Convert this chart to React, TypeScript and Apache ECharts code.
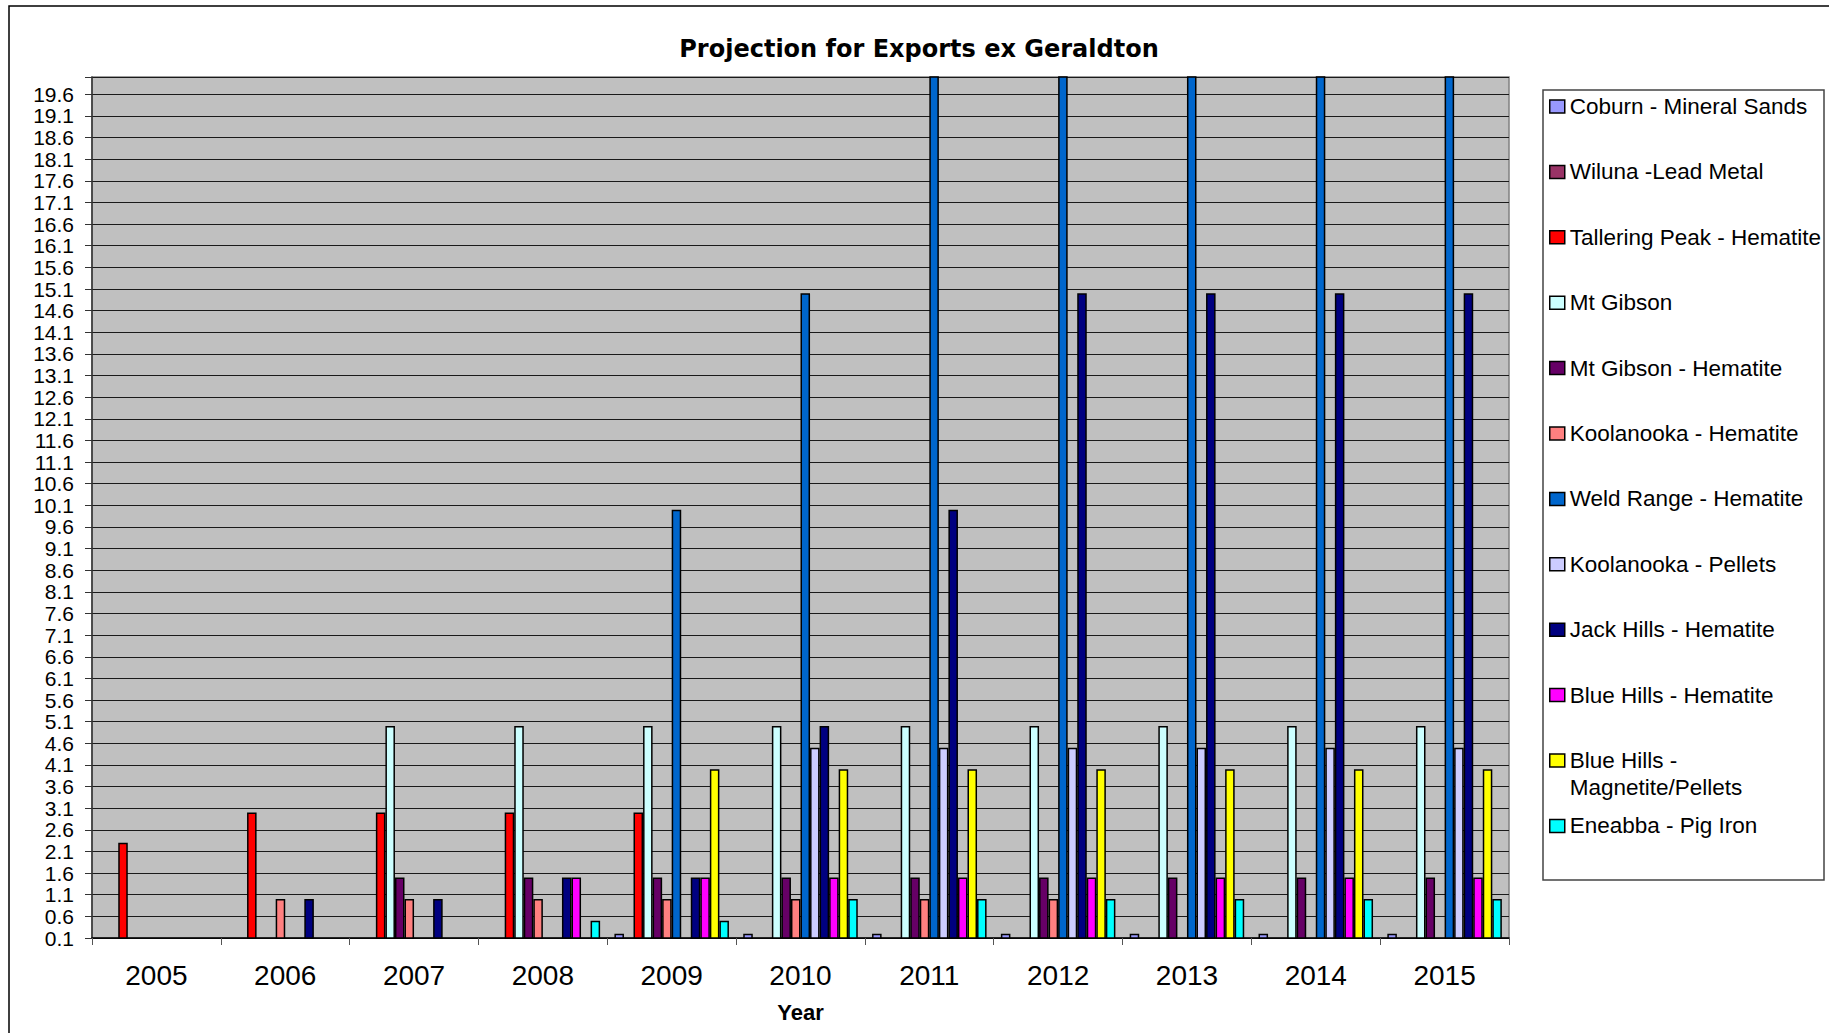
import React, { useEffect, useRef } from 'react';
import * as echarts from 'echarts';

const years = ['2005', '2006', '2007', '2008', '2009', '2010', '2011', '2012', '2013', '2014', '2015'];

const seriesNames = [
  'Coburn - Mineral Sands',
  'Wiluna -Lead Metal',
  'Tallering Peak - Hematite',
  'Mt Gibson',
  'Mt Gibson - Hematite',
  'Koolanooka - Hematite',
  'Weld Range - Hematite',
  'Koolanooka - Pellets',
  'Jack Hills - Hematite',
  'Blue Hills - Hematite',
  'Blue Hills - Magnetite/Pellets',
  'Eneabba - Pig Iron',
];

const seriesColors = [
  '#9999FF', '#993366', '#FF0000', '#CCFFFF', '#660066', '#FF8080',
  '#0066CC', '#CCCCFF', '#000080', '#FF00FF', '#FFFF00', '#00FFFF',
];

const coburn = [null, null, null, null, 0.2, 0.2, 0.2, 0.2, 0.2, 0.2, 0.2];
const wiluna = [null, null, null, null, null, null, null, null, null, null, null];
const talleringPeak = [2.3, 3, 3, 3, 3, null, null, null, null, null, null];
const mtGibson = [null, null, 5, 5, 5, 5, 5, 5, 5, 5, 5];
const mtGibsonHematite = [null, null, 1.5, 1.5, 1.5, 1.5, 1.5, 1.5, 1.5, 1.5, 1.5];
const koolanookaHematite = [null, 1, 1, 1, 1, 1, 1, 1, null, null, null];
const weldRange = [null, null, null, null, 10, 15, 25, 25, 25, 25, 25];
const koolanookaPellets = [null, null, null, null, null, 4.5, 4.5, 4.5, 4.5, 4.5, 4.5];
const jackHills = [null, 1, 1, 1.5, 1.5, 5, 10, 15, 15, 15, 15];
const blueHillsHematite = [null, null, null, 1.5, 1.5, 1.5, 1.5, 1.5, 1.5, 1.5, 1.5];
const blueHillsMagnetite = [null, null, null, null, 4, 4, 4, 4, 4, 4, 4];
const eneabba = [null, null, null, 0.5, 0.5, 1, 1, 1, 1, 1, 1];

const seriesValues = [
  coburn, wiluna, talleringPeak, mtGibson, mtGibsonHematite, koolanookaHematite,
  weldRange, koolanookaPellets, jackHills, blueHillsHematite, blueHillsMagnetite, eneabba,
];

const yMin = 0.1;
const yMax = 20;
const yStep = 0.5;

const FONT = '"Liberation Sans", Arial, Helvetica, sans-serif';
const TITLE_FONT = '"DejaVu Sans", "Liberation Sans", Arial, sans-serif';

export default function App() {
  const ref = useRef<HTMLDivElement>(null);

  useEffect(() => {
    if (!ref.current) return;
    const chart = echarts.init(ref.current, null, { renderer: 'svg' });

    const legendStep = 65.4;
    const legendFirst = 106.5;
    const legendFont = 22.5;
    const legends = seriesNames.map((name, i) => {
      const multi = i === 10;
      const c = legendFirst + i * legendStep;
      const base: any = {
        data: [name],
        orient: 'vertical',
        left: 1549,
        padding: 0,
        icon: 'rect',
        itemWidth: 15,
        itemHeight: 13,
        selectedMode: false,
        itemStyle: { borderColor: '#000', borderWidth: 1.5 },
      };
      if (multi) {
        return {
          ...base,
          top: c - 40.5,
          formatter: () => '{e| }\n{t|Blue Hills -}\n{t|Magnetite/Pellets}',
          textStyle: {
            fontFamily: FONT,
            fontSize: legendFont,
            color: '#000',
            lineHeight: 27,
            rich: {
              e: { fontFamily: FONT, fontSize: legendFont, lineHeight: 27, color: '#000' },
              t: { fontFamily: FONT, fontSize: legendFont, lineHeight: 27, color: '#000' },
            },
          },
        };
      }
      return {
        ...base,
        top: c - 12,
        textStyle: { fontFamily: FONT, fontSize: legendFont, color: '#000', lineHeight: 24 },
      };
    });

    const option: any = {
      animation: false,
      backgroundColor: '#ffffff',
      title: {
        text: 'Projection for Exports ex Geraldton',
        left: 919,
        top: 37,
        padding: 0,
        textAlign: 'center',
        textVerticalAlign: 'top',
        textStyle: { fontFamily: TITLE_FONT, fontSize: 24, fontWeight: 'bold', color: '#000' },
      },
      legend: legends,
      grid: {
        left: 92,
        top: 77,
        width: 1417,
        height: 861,
        show: true,
        backgroundColor: '#C0C0C0',
        borderColor: '#808080',
        borderWidth: 1.5,
        containLabel: false,
      },
      xAxis: {
        type: 'category',
        data: years,
        boundaryGap: true,
        axisLine: { show: true, lineStyle: { color: '#000', width: 1.5 } },
        axisTick: { show: true, length: 7, lineStyle: { color: '#555', width: 1 } },
        axisLabel: { fontFamily: FONT, fontSize: 28, color: '#000', margin: 23 },
        splitLine: { show: false },
        name: 'Year',
        nameLocation: 'middle',
        nameGap: 63,
        nameTextStyle: { fontFamily: FONT, fontSize: 22, fontWeight: 'bold', color: '#000' },
      },
      yAxis: {
        type: 'value',
        min: yMin,
        max: yMax,
        interval: yStep,
        axisLine: { show: true, lineStyle: { color: '#333', width: 1.5 } },
        axisTick: { show: true, length: 7, lineStyle: { color: '#333', width: 1 } },
        axisLabel: {
          fontFamily: FONT,
          fontSize: 21,
          color: '#000',
          margin: 18,
          formatter: (v: number) => (v > yMax - 0.2 ? '' : v.toFixed(1)),
        },
        splitLine: { show: true, lineStyle: { color: '#1a1a1a', width: 1 } },
      },
      series: seriesNames.map((name, i) => ({
        type: 'bar',
        name,
        data: seriesValues[i],
        barGap: '0%',
        barCategoryGap: '11.1%',
        itemStyle: { color: seriesColors[i], borderColor: '#000', borderWidth: 1.5 },
      })),
      graphic: [
        {
          type: 'rect',
          shape: { x: 9, y: 6, width: 1900, height: 1100 },
          style: { fill: 'none', stroke: '#000', lineWidth: 1.5 },
          silent: true,
        },
        {
          type: 'rect',
          shape: { x: 1543, y: 90, width: 281, height: 790 },
          style: { fill: 'none', stroke: '#444', lineWidth: 1.5 },
          silent: true,
        },
      ],
    };

    chart.setOption(option);
    return () => chart.dispose();
  }, []);

  return (
    <div
      ref={ref}
      style={{ position: 'absolute', left: 0, top: 0, width: 1829, height: 1033, background: '#fff' }}
    />
  );
}
